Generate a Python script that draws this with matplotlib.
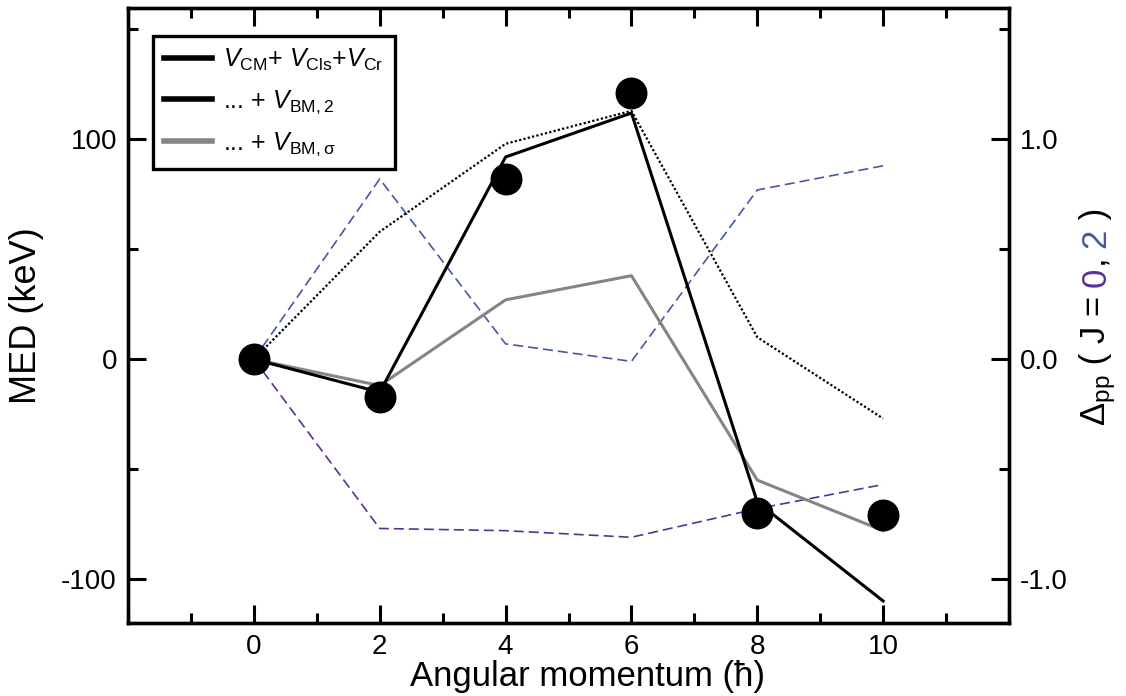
import matplotlib
matplotlib.use("Agg")
import matplotlib.pyplot as plt
from matplotlib.lines import Line2D
from matplotlib.ticker import MultipleLocator, FixedLocator, FormatStrFormatter

# Valeurs
J = [0, 2, 4, 6, 8, 10]
med_exp = [0, -17, 82, 121, -70, -71]
med_coul = [0, 58, 98, 113, 10, -27]
med_bm2 = [0, -15, 92, 112, -65, -110]
med_bms = [0, -12, 27, 38, -55, -78]
dpp_j2 = [0, 0.82, 0.07, -0.01, 0.77, 0.88]
dpp_j0 = [0, -0.77, -0.78, -0.81, -0.68, -0.57]

legend_labels = [r"$V_{\rm CM}$+ $V_{\rm Cls}$+$V_{\rm Cr}$",
                 r"... + $V_{\rm BM,2}$",
                 r"... + $V_{\rm BM,\sigma}$"]

blue = "#4656aa"
purple = "#5a2f96"
gray = "#858585"

plt.rcParams["font.family"] = ["Liberation Sans", "DejaVu Sans"]
plt.rcParams["mathtext.fontset"] = "custom"
plt.rcParams["mathtext.rm"] = "Liberation Sans"
plt.rcParams["mathtext.it"] = "Liberation Sans:italic"
plt.rcParams["mathtext.bf"] = "Liberation Sans:bold"
plt.rcParams["axes.unicode_minus"] = False

fig = plt.figure(figsize=(11.26, 6.96), dpi=100)
ax = fig.add_axes([0.1137, 0.1049, 0.7824, 0.8843])
ax2 = ax.twinx()
ax.set_zorder(ax2.get_zorder() + 1)
ax.patch.set_visible(False)

# courbes Delta_pp (axe de droite)
ax2.plot(J, dpp_j2, color=blue, lw=1.2, linestyle=(0, (6, 3)))
ax2.plot(J, dpp_j0, color=purple, lw=1.2, linestyle=(0, (6, 3)))

# MED
ax.plot(J, med_coul, color="black", lw=1.6, linestyle=(0, (1, 1)))
ax.plot(J, med_bms, color=gray, lw=2.2)
ax.plot(J, med_bm2, color="black", lw=2.2)
ax.plot(J, med_exp, "o", color="black", markersize=22, zorder=5)

ax.set_xlim(-2, 12)
ax.set_ylim(-120, 160)
ax2.set_ylim(-1.2, 1.6)

ax.xaxis.set_major_locator(FixedLocator(J))
ax.xaxis.set_minor_locator(MultipleLocator(1))
ax.yaxis.set_major_locator(MultipleLocator(100))
ax.yaxis.set_minor_locator(MultipleLocator(50))
ax2.yaxis.set_major_locator(MultipleLocator(1.0))
ax2.yaxis.set_minor_locator(MultipleLocator(0.5))
ax2.yaxis.set_major_formatter(FormatStrFormatter("%.1f"))

ax.tick_params(which="both", direction="in", top=True, right=False,
               width=2.2, labelsize=20, pad=8)
ax.tick_params(which="major", length=13)
ax.tick_params(which="minor", length=7.5)
ax2.tick_params(which="both", direction="in", width=2.2, labelsize=20, pad=8)
ax2.tick_params(which="major", length=13)
ax2.tick_params(which="minor", length=7.5)
for a in (ax, ax2):
    for s in a.spines.values():
        s.set_linewidth(2.4)

ax.set_xlabel("Angular momentum (\u0127)", fontsize=25)
ax.xaxis.set_label_coords(0.521, -0.06)
ax.set_ylabel("MED (keV)", fontsize=26, labelpad=12)

# label de droite en plusieurs couleurs
pieces = [(r"$\Delta_{\rm pp}$", "black"), (" ( J = ", "black"), ("0", purple),
          (", ", "black"), ("2", blue), (" )", "black")]
prev = None
for txt, col in pieces:
    if prev is None:
        prev = ax2.text(1.08, 0.32, txt, color=col, fontsize=25, rotation=90,
                        ha="left", va="bottom", transform=ax2.transAxes)
    else:
        prev = ax2.annotate(txt, xy=(1.08, 1.0), xycoords=("axes fraction", prev),
                            color=col, fontsize=25, rotation=90,
                            ha="left", va="bottom")

handles = [Line2D([], [], color="black", lw=4),
           Line2D([], [], color="black", lw=4),
           Line2D([], [], color=gray, lw=4)]
leg = ax.legend(handles, legend_labels, loc="upper left",
                bbox_to_anchor=(0.0284, 0.954), borderaxespad=0,
                fontsize=18, fancybox=False, framealpha=1, edgecolor="black",
                handlelength=1.9, handletextpad=0.45, labelspacing=0.6,
                borderpad=0.45)
leg.get_frame().set_linewidth(2.4)

fig.savefig("out.png", dpi=100)
